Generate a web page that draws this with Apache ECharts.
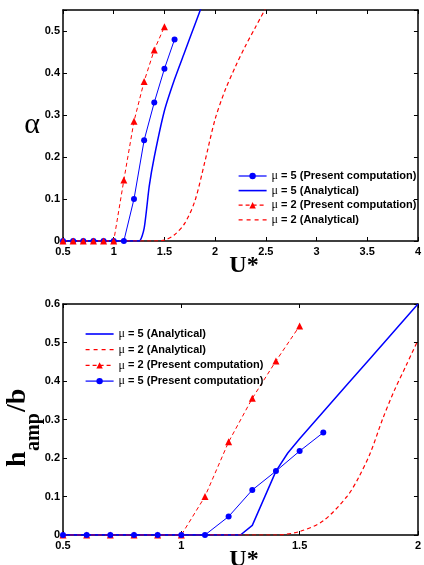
<!DOCTYPE html>
<html>
<head>
<meta charset="utf-8">
<script src="https://cdn.jsdelivr.net/npm/echarts@6/dist/echarts.min.js"></script>
<style>
  html, body { margin: 0; padding: 0; background: #fff; }
  #chart { width: 424px; height: 565px; }
</style>
</head>
<body>
<div id="chart"></div>
<script>
// U* samples of the computed points
const uComp5 = [0.5, 0.6, 0.7, 0.8, 0.9, 1.0, 1.1, 1.2, 1.3, 1.4, 1.5, 1.6]
const uComp2 = [0.5, 0.6, 0.7, 0.8, 0.9, 1.0, 1.1, 1.2, 1.3, 1.4, 1.5]

// top panel: alpha
const alphaMu5Comp = [0, 0, 0, 0, 0, 0, 0, 0.10, 0.24, 0.33, 0.41, 0.48]
const alphaMu2Comp = [0, 0, 0, 0, 0, 0, 0.145, 0.285, 0.38, 0.455, 0.51]
const uAlphaMu5Ana = [0.5, 1.0, 1.25, 1.3, 1.35, 1.4, 1.5, 1.6, 1.7, 1.8, 1.9]
const alphaMu5Ana = [0, 0, 0, 0.03, 0.13, 0.2, 0.31, 0.385, 0.45, 0.515, 0.58]
const uAlphaMu2Ana = [0.5, 1.0, 1.4, 1.5, 1.6, 1.7, 1.8, 1.9, 2.0, 2.1, 2.2, 2.3, 2.4, 2.5]
const alphaMu2Ana = [0, 0, 0, 0.002, 0.015, 0.042, 0.095, 0.19, 0.29, 0.36, 0.415, 0.465, 0.51, 0.555]

// bottom panel: h_amp/b
const hMu5Comp = [0, 0, 0, 0, 0, 0, 0, 0.048, 0.117, 0.166, 0.218, 0.266]
const hMu2Comp = [0, 0, 0, 0, 0, 0, 0.10, 0.242, 0.355, 0.452, 0.543]
const uHMu5Ana = [0.5, 1.0, 1.25, 1.3, 1.4, 1.45, 1.5, 1.6, 1.7, 1.8, 1.9, 2.0]
const hMu5Ana = [0, 0, 0, 0.025, 0.166, 0.213, 0.25, 0.32, 0.39, 0.46, 0.53, 0.6]
const uHMu2Ana = [0.5, 1.0, 1.4, 1.5, 1.6, 1.7, 1.75, 1.8, 1.85, 1.9, 1.95, 2.0]
const hMu2Ana = [0, 0, 0, 0.009, 0.037, 0.10, 0.15, 0.215, 0.3, 0.375, 0.44, 0.506]

const names = {
  c5: 'μ = 5 (Present computation)',
  a5: 'μ = 5 (Analytical)',
  c2: 'μ = 2 (Present computation)',
  a2: 'μ = 2 (Analytical)'
}

const BLUE = '#0000ff'
const RED = '#ff0000'
const sans = 'Liberation Sans'
const serif = 'Liberation Serif'

const zip = (xs, ys) => xs.map((x, i) => [x, ys[i]])

// 4 axes per panel: bottom/left carry labels, top/right only inward ticks
function xAxes(grid, max) {
  const base = {
    gridIndex: grid, type: 'value', min: 0.5, max: max, interval: 0.5,
    axisLine: { onZero: false, lineStyle: { color: '#000', width: 1.5 } },
    axisTick: { inside: true, length: 4, lineStyle: { color: '#000', width: 1 } },
    splitLine: { show: false }
  }
  return [
    { ...base, position: 'bottom',
      axisLabel: { color: '#000', fontFamily: sans, fontWeight: 'bold', fontSize: 11, margin: 5 } },
    { ...base, position: 'top', axisLabel: { show: false } }
  ]
}
function yAxes(grid, max) {
  const base = {
    gridIndex: grid, type: 'value', min: 0, max: max, interval: 0.1,
    axisLine: { onZero: false, lineStyle: { color: '#000', width: 1.5 } },
    axisTick: { inside: true, length: 4, lineStyle: { color: '#000', width: 1 } },
    splitLine: { show: false }
  }
  return [
    { ...base, position: 'left',
      axisLabel: { color: '#000', fontFamily: sans, fontWeight: 'bold', fontSize: 11, margin: 3,
        formatter: v => (v > 0.5 + 1e-6 && max === 0.55) ? '' : String(+v.toFixed(2)) } },
    { ...base, position: 'right', axisLabel: { show: false } }
  ]
}

function compSeries(name, xi, yi, data, color, symbol, size, dashed) {
  return {
    name, type: 'line', xAxisIndex: xi, yAxisIndex: yi, data,
    symbol, symbolSize: size, showSymbol: true,
    itemStyle: { color },
    lineStyle: { color, width: 1, type: dashed ? [4, 3] : 'solid' },
    emphasis: { disabled: true }, z: 3
  }
}
function anaSeries(name, xi, yi, data, color, dashed, smooth) {
  return {
    name, type: 'line', xAxisIndex: xi, yAxisIndex: yi, data,
    symbol: 'none', smooth: smooth,
    itemStyle: { color },
    lineStyle: { color, width: dashed ? 1.2 : 1.5, type: dashed ? [4, 3] : 'solid' },
    emphasis: { disabled: true }, z: 2
  }
}

// legend icons for the plain lines (the default line icon would add a circle)
const solidIcon = 'path://M0,0h28v1.6h-28z'
const dashIcon = 'path://M0,0h4v1.3h-4zM8,0h4v1.3h-4zM16,0h4v1.3h-4zM24,0h4v1.3h-4z'
const legendItems = {
  c5: { name: names.c5 },
  c2: { name: names.c2 },
  a5: { name: names.a5, icon: solidIcon, itemStyle: { color: BLUE } },
  a2: { name: names.a2, icon: dashIcon, itemStyle: { color: RED } }
}

const legendText = {
  color: '#000',
  rich: {
    m: { fontFamily: serif, fontSize: 12, color: '#000' },
    t: { fontFamily: sans, fontSize: 11, fontWeight: 'bold', color: '#000' }
  }
}
const legendFmt = n => '{m|μ}{t|' + n.slice(1) + '}'

const option = {
  animation: false,
  backgroundColor: '#fff',
  grid: [
    { left: 63, right: 1, top: 10, height: 231 },
    { left: 63, right: 1, top: 304, height: 231 }
  ],
  xAxis: [...xAxes(0, 4), ...xAxes(1, 2)],
  yAxis: [...yAxes(0, 0.55), ...yAxes(1, 0.6)],
  legend: [
    {
      left: 233, top: 165, orient: 'vertical', itemWidth: 28, itemHeight: 8, itemGap: 2.6,
      data: [legendItems.c5, legendItems.a5, legendItems.c2, legendItems.a2],
      lineStyle: { width: 1.2 },
      formatter: legendFmt, textStyle: legendText, selectedMode: false
    },
    {
      left: 80, top: 323, orient: 'vertical', itemWidth: 28, itemHeight: 8, itemGap: 3.7,
      data: [legendItems.a5, legendItems.a2, legendItems.c2, legendItems.c5],
      lineStyle: { width: 1.2 },
      formatter: legendFmt, textStyle: legendText, selectedMode: false
    }
  ],
  series: [
    anaSeries(names.a5, 0, 0, zip(uAlphaMu5Ana, alphaMu5Ana), BLUE, false, 0.2),
    anaSeries(names.a2, 0, 0, zip(uAlphaMu2Ana, alphaMu2Ana), RED, true, 0.3),
    compSeries(names.c5, 0, 0, zip(uComp5, alphaMu5Comp), BLUE, 'circle', 6, false),
    compSeries(names.c2, 0, 0, zip(uComp2, alphaMu2Comp), RED, 'triangle', 7, true),

    anaSeries(names.a5, 2, 2, zip(uHMu5Ana, hMu5Ana), BLUE, false, false),
    anaSeries(names.a2, 2, 2, zip(uHMu2Ana, hMu2Ana), RED, true, 0.3),
    compSeries(names.c2, 2, 2, zip(uComp2, hMu2Comp), RED, 'triangle', 7, true),
    compSeries(names.c5, 2, 2, zip(uComp5, hMu5Comp), BLUE, 'circle', 6, false)
  ],
  graphic: [
    { type: 'text', x: 32, y: 125,
      style: { text: 'α', font: '30px ' + serif, fill: '#000', textAlign: 'center', textVerticalAlign: 'middle' } },
    { type: 'text', x: 244, y: 266,
      style: { text: 'U*', font: 'bold 24px ' + serif, fill: '#000', textAlign: 'center', textVerticalAlign: 'middle' } },
    { type: 'text', x: 244, y: 560,
      style: { text: 'U*', font: 'bold 24px ' + serif, fill: '#000', textAlign: 'center', textVerticalAlign: 'middle' } },
    {
      type: 'group', x: 32, y: 427, rotation: Math.PI / 2,
      children: [
        { type: 'text', x: -40, y: 0,
          style: { text: 'h', font: 'bold 28px ' + serif, fill: '#000', textAlign: 'left', textVerticalAlign: 'bottom' } },
        { type: 'text', x: -24, y: 12,
          style: { text: 'amp', font: 'bold 20px ' + serif, fill: '#000', textAlign: 'left', textVerticalAlign: 'bottom' } },
        { type: 'text', x: 15, y: 0,
          style: { text: '/b', font: 'bold 28px ' + serif, fill: '#000', textAlign: 'left', textVerticalAlign: 'bottom' } }
      ]
    }
  ]
}

const chart = echarts.init(document.getElementById('chart'))
chart.setOption(option)
</script>
</body>
</html>
